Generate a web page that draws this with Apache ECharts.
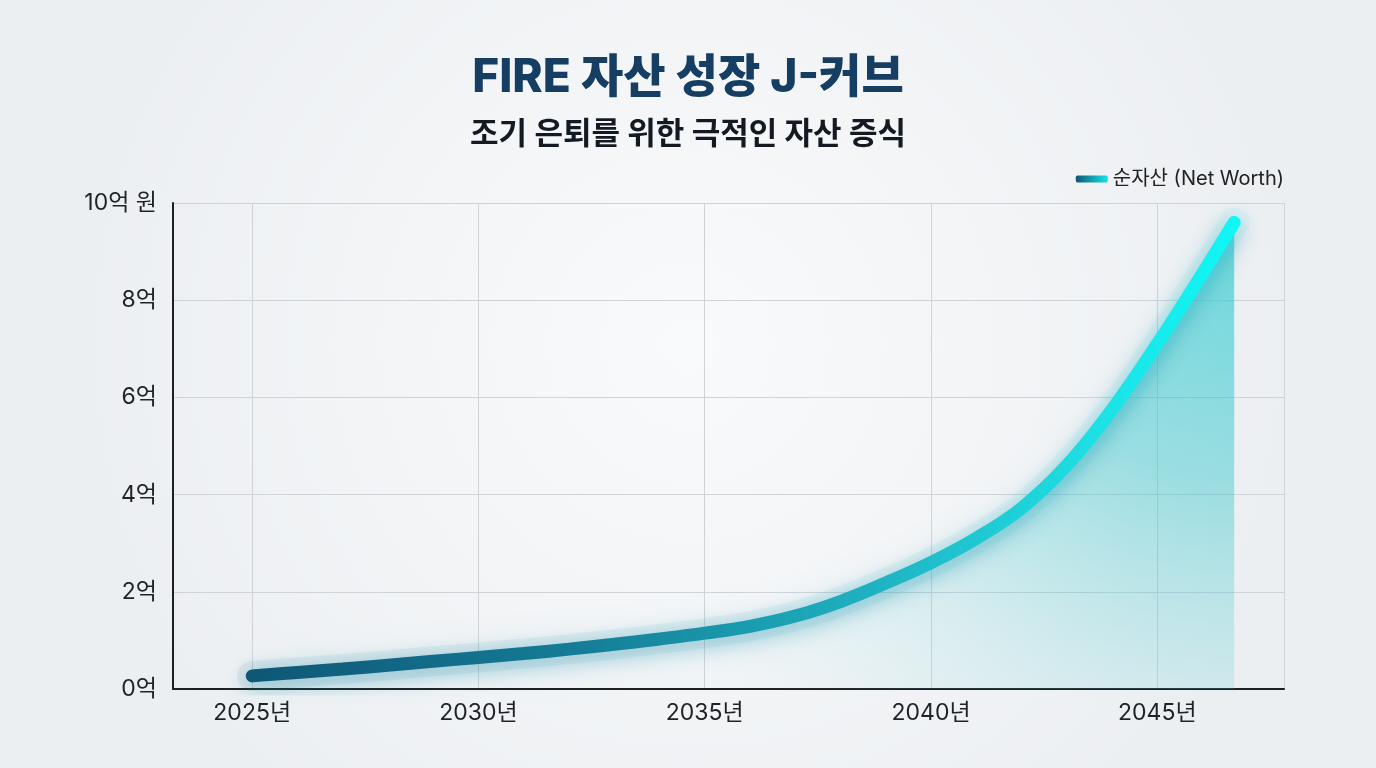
<!DOCTYPE html>
<html>
<head>
<meta charset="utf-8">
<script src="https://cdn.jsdelivr.net/npm/echarts@6/dist/echarts.min.js"></script>
<style>
html,body{margin:0;padding:0;width:1376px;height:768px;overflow:hidden;}
#c{width:1376px;height:768px;}
</style>
</head>
<body>
<div id="c"></div>
<script>
const titleText = 'FIRE 자산 성장 J-커브';
const subtitleText = '조기 은퇴를 위한 극적인 자산 증식';
const seriesName = '순자산 (Net Worth)';
const years = [2025, 2026, 2027, 2028, 2029, 2030, 2031, 2032, 2033, 2034, 2035, 2036, 2037, 2038, 2039, 2040, 2041, 2042, 2043, 2044, 2045, 2046, 2046.7];
const netWorth = [0.27, 0.34, 0.41, 0.49, 0.57, 0.65, 0.73, 0.82, 0.92, 1.03, 1.15, 1.29, 1.5, 1.8, 2.18, 2.6, 3.1, 3.72, 4.6, 5.75, 7.1, 8.55, 9.6];
const yTicks = [0, 2, 4, 6, 8, 10];

const FONT = 'Inter, "Noto Sans CJK KR", sans-serif';
const data = years.map((y, i) => [y, netWorth[i]]);

const chart = echarts.init(document.getElementById('c'));
const lineGrad = new echarts.graphic.LinearGradient(0, 0, 1, 0, [
  {offset: 0, color: '#0e5675'},
  {offset: 0.35, color: '#157f99'},
  {offset: 0.65, color: '#1fb6c4'},
  {offset: 0.85, color: '#1ee0e4'},
  {offset: 1, color: '#0ff8f6'}
]);
chart.setOption({
  backgroundColor: {
    type: 'radial', x: 0.5, y: 0.45, r: 0.8,
    colorStops: [{offset: 0, color: '#f9fafb'}, {offset: 1, color: '#eceff2'}]
  },
  textStyle: {fontFamily: FONT},
  title: [
    {text: titleText, left: 'center', top: 50,
     textStyle: {fontFamily: FONT, fontSize: 46, fontWeight: 800, color: '#153e62'}},
    {text: subtitleText, left: 'center', top: 114,
     textStyle: {fontFamily: FONT, fontSize: 31, fontWeight: 700, color: '#141a22'}}
  ],
  legend: {
    right: 87, top: 164,
    icon: 'roundRect', itemWidth: 32, itemHeight: 7, itemGap: 10,
    textStyle: {fontFamily: FONT, fontSize: 20, color: '#222'},
    data: [{name: seriesName, itemStyle: {color: new echarts.graphic.LinearGradient(0,0,1,0,[{offset:0,color:'#0e5675'},{offset:1,color:'#18e4ea'}])}}]
  },
  grid: {left: 173, right: 92, top: 203, bottom: 79, containLabel: false},
  xAxis: {
    type: 'value', min: 2023.25, max: 2047.8, splitNumber: 5,
    axisLine: {show: true, lineStyle: {color: '#1d1f22', width: 2}},
    axisTick: {show: false},
    axisLabel: {
      fontFamily: FONT, fontSize: 23, color: '#1f2226', margin: 13,
      formatter: v => (Math.abs(v % 5) < 1e-6 ? v + '년' : '')
    },
    splitLine: {show: true, lineStyle: {color: '#cfd3d8', width: 1}}
  },
  yAxis: {
    type: 'value', min: yTicks[0], max: yTicks[yTicks.length - 1], interval: 2,
    axisLine: {show: true, lineStyle: {color: '#1d1f22', width: 2}},
    axisTick: {show: false},
    axisLabel: {
      fontFamily: FONT, fontSize: 23, color: '#1f2226', margin: 16,
      formatter: v => (v === 10 ? '10억 원' : v + '억')
    },
    splitLine: {show: true, lineStyle: {color: '#cfd3d8', width: 1}}
  },
  series: [
    {
      name: 'area', type: 'line', data: data, smooth: 0.4, symbol: 'none', silent: true,
      lineStyle: {width: 0},
      areaStyle: {
        color: {type: 'radial', x: 1, y: 0.05, r: 1.45, colorStops: [
          {offset: 0, color: 'rgba(25,200,205,0.85)'},
          {offset: 0.35, color: 'rgba(40,195,200,0.6)'},
          {offset: 0.7, color: 'rgba(90,205,210,0.22)'},
          {offset: 1, color: 'rgba(150,220,225,0)'}
        ]}
      },
      z: 1
    },
    {
      name: 'glow', type: 'line', data: data, smooth: 0.4, symbol: 'none', silent: true,
      lineStyle: {width: 30, color: lineGrad, opacity: 0.07, cap: 'round',
        shadowBlur: 40, shadowColor: 'rgba(20,170,190,0.6)', shadowOffsetY: 6},
      z: 2
    },
    {
      name: seriesName, type: 'line', data: data, smooth: 0.4, symbol: 'none',
      lineStyle: {width: 13, color: lineGrad, cap: 'round',
        shadowBlur: 22, shadowColor: 'rgba(20,140,170,0.55)', shadowOffsetY: 5},
      itemStyle: {color: '#18b8c8'},
      z: 3
    }
  ]
});
</script>
</body>
</html>
